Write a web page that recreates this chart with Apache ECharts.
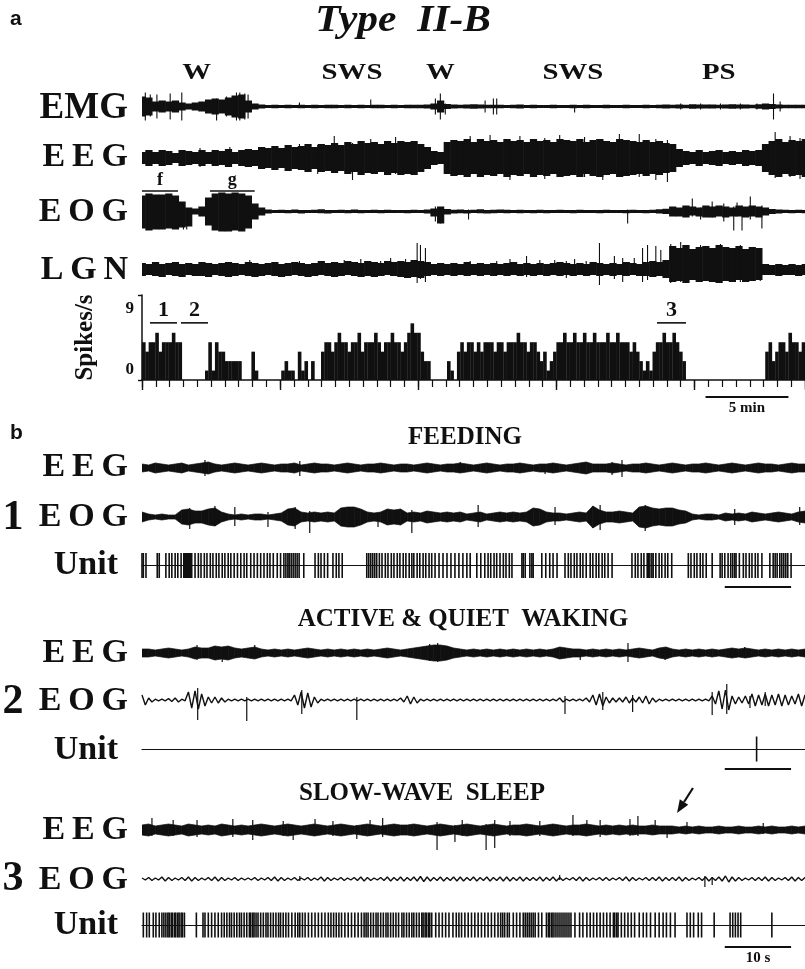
<!DOCTYPE html>
<html>
<head>
<meta charset="utf-8">
<script src="https://cdn.jsdelivr.net/npm/echarts@6/dist/echarts.min.js"></script>
<style>
  html, body { margin: 0; padding: 0; background: #fff; }
  #fig { width: 805px; height: 969px; }
</style>
</head>
<body>
<div id="fig"></div>
<script>
// ---------------- Panel a: long recording (time in minutes) ----------------
// Envelope samples every 0.4 min: half-amplitude above / below the baseline.
const emgAmp = [10,9,5,6,5,6,4,3,4,5, 7,8,7,9,11,12,6,3,2,1.5,
  1.7,1.6,1.7,1.6,1.8,1.6,1.7,1.6,1.7,1.8, 1.6,1.7,1.6,1.7,1.6,1.8,1.7,1.6,1.7,1.6, 1.7,1.8,1.7,1.9,
  3,6,2.5,
  1.9,1.8,2,2.3,1.9,1.7,1.8,1.7,1.6,1.7, 1.9,1.6,1.7,1.6,1.6,1.7,1.6,1.6,1.7,1.6, 1.7,1.6,1.6,1.7,1.6,1.6,1.7,1.6,1.6,1.7, 1.6,1.7,1.9,
  1.8,2,1.8,2.2,1.9,2,2.1,1.8,2,2.2,1.9,2,1.8,2.2,3,
  2.6,2,1.8,1.7,1.8,1.7];
// [time (min), up, down]
const emgSpikes = [[0.2,14,14],[0.5,12,10],[0.9,12,12],[1.7,13,13],[2.4,14,14],[4.5,8,14],[5.1,10,10],
  [5.7,14,14],[5.9,14,14],[6.2,13,13],[6.4,12,12],[9.5,4,1],[13.8,7,1],[17.7,8,8],[18.0,13,13],[18.3,3,8],
  [20.7,6,6],[21.2,8,8],[21.4,8,8],[26.1,1,6],[32.5,3,3],[33.7,3,3],[34.9,3,3],[36.1,3,3],[37.1,3,3],
  [38.1,13,13],[38.5,5,5]];

const eegAAmp = [6,8,6,8,7,5,8,7,6,8,6,8,7,9,6,8,9,
  8,11,10,12,10,13,11,12,14,11,14,13,
  15,13,16,14,17,15,16,14,17,15,17,
  16,17,14,11,7,6,
  16,18,17,19,16,19,17,18,16,19, 17,18,16,19,17,18,16,19,18,17, 19,16,18,19,17,16,19,18,17,16, 18,16,17,15,14,
  9,7,6,8,6,7,8,6,7,6,8,7,8,
  14,17,19,16,18,17,19];
const eegASpikes = [[3.5,10,9],[5.3,11,8],[9.5,14,12],[10.6,13,16],[11.6,22,14],[12.7,15,22],[13.8,19,15],
  [15.3,21,16],[19.8,22,17],[21.0,23,16],[22.2,18,22],[22.8,22,18],[24.3,20,21],[25.2,23,18],[26.7,21,19],
  [27.8,18,22],[28.8,24,18],[30.0,24,19],[31.0,19,22],[31.7,18,24],[38.2,26,20],[39.1,22,19],[39.7,20,21]];

const eogAUp = [16,18,17,17,18,16,10,4,3,5, 14,18,19,18,19,18,16,8,4,2,
  1.5,1.8,1.5,2,1.6,1.5,1.8,2.2,1.5,1.6, 1.8,1.5,2,1.6,1.5,1.7,1.5,1.8,1.5,1.6,
  1.5,1.8,1.6,2,3,5,2.5,1.8,2,1.6, 1.8,2.2,1.6,1.8,2,1.7,1.6,1.8,1.6,1.5,
  1.7,1.6,1.5,1.7,1.5,1.6,1.7,1.5,1.6,1.5, 1.7,1.5,1.6,1.5,1.7,1.6,1.5,1.8,2.2,2.8,
  5,4,6,5,4,6,5,6,5,4, 6,5,6,5,4,2.5,2,1.8,1.6,1.8, 1.6];
const eogADn = [17,19,18,18,17,18,16,15,3,5, 14,19,20,20,19,20,17,8,4,2,
  1.6,1.5,1.8,1.5,2,1.6,1.5,1.8,2,1.5, 1.6,1.8,1.5,1.7,1.6,1.5,1.8,1.5,1.6,1.5,
  1.8,1.6,1.5,2,5,12,3,2,1.8,2, 1.6,1.8,2,1.7,1.6,1.8,1.5,1.7,1.6,1.8,
  1.5,1.7,1.6,1.5,1.6,1.7,1.5,1.6,1.5,1.7, 1.5,1.6,1.5,1.7,1.5,1.6,1.7,1.5,2,2.5,
  5,5,6,4,5,6,6,5,6,5, 5,6,5,6,4,2.5,2,1.6,1.8,1.6, 1.8];
const eogASpikes = [[2.5,2,18],[2.7,2,18],[17.7,5,10],[18.0,4,12],[19.7,2,8],[29.3,2,12],[33.2,13,5],
  [33.7,4,8],[34.4,10,6],[35.1,8,10],[35.7,5,19],[35.9,9,5],[36.2,6,19],[36.7,15,8],[37.4,6,17]];

const lgnUp = [7,6,8,6,7,8,6,7,6,8, 7,6,7,8,7,6,8,7,6,7, 8,6,7,8,7,6,7,9,7,8, 7,9,8,7,9,8,7,9,8,
  9,8,10,9,8,
  6,7,6,7,6,8,6,7,6,7, 6,7,8,6,7,6,7,6,7,8, 7,6,7,6,8,7,6,7,6,8, 7,6,
  8,9,8,10,
  24,22,25,21,23,24,22,25,23,22,24,21,23,22,
  6,5,6,5,6,5,6];
const lgnDn = [6,5,6,7,5,6,7,5,6,6, 7,5,6,7,6,5,6,7,6,5, 6,7,6,5,6,7,6,5,6,7, 6,5,6,7,6,7,6,5,6,
  7,8,7,8,6,
  5,6,5,6,5,6,5,6,5,6, 5,6,5,6,5,6,5,6,5,6, 5,6,5,6,5,6,5,6,5,6, 5,6,
  6,7,6,8,
  12,11,13,10,12,11,12,13,11,12,10,12,11,10,
  5,5,6,5,5,6,5];
const lgnSpikes = [[6.5,10,5],[9.5,9,5],[12.2,10,6],[13.2,11,5],[14.4,9,5],[15.0,12,6],[15.9,11,7],
  [16.6,27,13],[16.8,25,9],[17.1,22,12],[19.8,9,5],[21.4,9,5],[22.2,11,5],[23.2,14,7],[24.0,10,5],
  [24.9,10,5],[25.6,9,8],[26.1,11,5],[26.8,9,5],[27.6,27,15],[28.5,14,9],[29.0,12,12],[29.7,12,5],
  [30.2,22,12],[30.5,25,10],[31.0,24,6],[31.3,20,6],[31.9,26,13],[32.5,28,12],[33.7,25,12],
  [34.9,26,12],[36.1,25,12],[37.3,22,11]];

// Unit firing rate, spikes/s, one bin every 0.2 min
const rateBins = [4,3,4,4,5,3,4,4,4,5,4,4, 0,0,0,0,0,0,0, 1, 4,1,4,3,3,2,2,2,2,2, 0,0,0, 3,1,
  0,0,0,0,0,0,0, 1,2,1,1, 0, 3,1,2, 0, 2, 0,0,
  3,4,4,3,4,5,4,4,3,4,4,5,3,4,4,4,5,4,3,4,4,5,4,4,
  3,4,5,6,5,5,3,2,2, 0,0,0,0,0, 2,1, 0, 3,
  4,3,4,4,3,4,3,4,4,4,3,4,4,3,4,4,4,5,4,4,3,4,4,3,2,3,
  1,2,
  3,4,4,5,4,4,5,4,4,5,4,4,5,4,4,4,5,4,4,5,4,4,4,3,4,3,2,
  1,2,1,
  3,4,4,5,4,4,5,4,3,2,
  0,0,0,0,0,0,0,0,0,0,0,0,0,0,0,0,0,0,0,0,0,0,0,0,
  3,4,2,3,4,4,3,5,4,4,3,4];
const rateTicks = [0, 9];
// epochs marked above the traces: [label, start, end] in minutes
const eogEpochs = [['f', 0, 2.17], ['g', 4.1, 6.8]];
const rateEpochs = [['1', 0.48, 2.11], ['2', 2.35, 3.98], ['3', 31.07, 32.82]];
const stateLabels = [['W', 3.3], ['SWS', 12.67], ['W', 18.0], ['SWS', 26.0], ['PS', 34.8]];

// ---------------- Panel b: expanded epochs (time in seconds) ----------------
const eegB1Amp = [4,3,5,4,3,4,5,3,4,5, 6,4,3,4,5,4,3,4,5,4, 3,4,4,5,3,4,5,4,4,3, 4,5,4,3,4,4,5,4,3,4,
  4,3,4,5,4,3,4,4,5,4, 3,4,5,4,3,4,4,5,4,3, 4,4,5,4,3,4,5,6,4,4, 4,5,4,3,4,4,5,4,3,4,
  5,4,3,4,4,5,4,3,4,5, 4,3,4,5,4,4,3,4,5,4, 4];
const eegB1Spikes = [[9.5,8,8],[23.8,7,8],[48.0,6,4],[60.8,4,6],[70.9,6,7],[72.4,8,9]];
const eogB1Amp = [5,3,2,3,2,2,7,8,6,6, 8,9,5,3,2,3,2,3,3,2, 3,4,8,9,5,4,5,4,5,4, 9,10,10,8,5,4,5,8,7,8,
  4,5,4,6,5,4,5,4,5,3, 4,5,3,4,5,4,5,4,5,9, 8,5,4,4,3,4,5,4,11,7, 5,5,6,5,4,10,11,9,8,9,
  9,7,6,3,2,3,3,2,4,3, 4,3,5,4,3,4,5,4,3,5, 6];
const eogB1Spikes = [[7.2,9,12],[11.0,11,9],[14.0,10,9],[19.0,5,10],[23.1,10,12],[25.3,6,16],[35.6,4,10],
  [40.7,7,16],[50.7,12,10],[62.3,10,8],[69.1,12,13],[75.9,12,14],[89.4,8,8],[99.2,10,8]];
const unit1Times = [0,0.2,0.6,2.3,2.6,3.6,4.1,4.5,5.0,5.4,5.9,6.3,6.4,6.6,6.7,6.9,7.0,7.2,7.3,7.5,
  8.0,8.5,8.9,9.4,9.8,10.3,10.7,11.2,11.6,12.1,12.5,13.0,13.4,13.9,14.4,14.9,15.4,15.8,16.4,16.9,
  17.4,17.9,18.4,18.9,19.3,19.8,20.4,20.9,21.4,21.7,22.0,22.2,22.5,22.8,23.1,23.4,23.7,24.4,
  26.1,26.6,27.0,27.5,28.0,28.8,29.3,29.7,30.2,
  33.9,34.2,34.5,34.8,35.1,35.4,35.8,36.2,36.7,37.1,37.6,38.0,38.5,38.9,39.4,39.8,40.3,40.7,41.0,
  41.5,41.9,42.4,42.8,43.3,43.7,44.2,44.8,45.4,46.0,46.6,47.2,47.8,48.4,49.0,49.5,
  50.5,51.1,51.7,52.2,52.6,53.1,53.5,54.0,54.5,54.9,55.4,55.8,57.3,57.5,57.8,58.5,58.8,59.0,
  60.3,60.9,61.5,62.0,62.6,63.8,64.3,64.7,65.2,65.6,66.1,66.5,67.0,67.6,68.0,68.5,68.9,69.4,69.8,
  70.3,70.9,73.9,74.4,74.8,75.3,75.7,76.2,76.4,76.6,76.9,77.1,77.5,78.0,78.4,78.9,79.3,79.9,
  82.4,82.8,83.3,83.7,84.2,84.6,85.1,86.0,87.2,87.5,87.9,88.4,88.8,89.1,89.4,89.6,90.1,90.7,
  91.1,91.6,92.0,92.5,92.9,93.5,94.7,95.2,95.5,95.8,96.2,96.5,96.8,97.1,97.4,97.9];

const eegB2Amp = [4,4,3,4,5,4,3,4,6,5, 5,7,6,7,5,4,5,6,4,3, 4,3,4,3,4,5,4,3,4,3, 4,3,4,3,4,3,4,5,4,3,
  4,5,6,7,8,8,7,5,4,3, 4,3,4,3,4,3,4,3,4,3, 4,3,4,6,5,4,4,3,4,3, 4,3,4,3,4,5,4,3,5,6,
  4,3,4,3,4,3,4,3,4,5, 4,5,4,3,4,3,4,3,4,3, 4];
const eegB2Spikes = [[8.3,8,7],[12.1,6,9],[17.0,8,4],[43.4,9,8],[44.6,10,9],[66.1,4,7],[73.3,10,9],
  [78.9,4,7],[90.9,6,5]];
const eogB2Amp = [5,2,0.8,0.8,1.5,2,0.8,8,9,6, 3,3,2,0.8,0.8,0.8,0.8,0.8,0.8,0.8,
  0.8,0.8,0.8,5,8,7,3,0.8,0.8,0.8, 0.8,0.8,0.8,0.8,0.8,0.8,0.8,0.8,0.8,2,
  4,3,0.8,0.8,0.8,0.8,0.8,0.8,0.8,0.8, 0.8,0.8,0.8,0.8,0.8,0.8,0.8,0.8,0.8,0.8,
  0.8,0.8,0.8,2,0.8,0.8,0.8,2,5,6, 3,2,2,3,2,3,4,2,0.8,0.8,
  0.8,0.8,0.8,0.8,0.8,0.8,4,9,10,4, 3,4,6,5,6,5,6,5,4,6, 5];
const eogB2Spikes = [[8.4,12,20],[15.8,3,21],[24.1,10,14],[32.4,3,20],[63.8,4,14],[69.5,8,10],
  [74.0,5,12],[86.0,8,15],[88.2,16,14],[91.7,4,8],[94.0,8,6]];
const unit2Times = [92.7];

const eegB3Amp = [5,6,4,5,6,5,4,6,5,4, 5,4,6,5,4,5,4,5,6,5, 4,5,6,5,4,5,6,5,4,5, 6,5,4,5,6,5,4,5,6,5,
  5,6,5,4,5,6,5,4,5,6, 5,4,5,6,5,4,5,5,6,5, 4,5,6,5,4,5,5,6,5,4, 5,4,5,4,5,4,4,5,4,4,
  4,3,4,3,4,3,3,4,3,3, 4,3,3,4,3,4,3,3,4,3, 4];
const eegB3Spikes = [[1.5,12,6],[4.7,10,6],[8.3,10,7],[13.7,11,7],[16.7,10,10],[21.3,9,6],[22.8,5,10],
  [26.1,11,6],[28.8,9,6],[32.4,5,9],[34.4,10,6],[36.3,12,7],[44.5,8,20],[47.2,5,12],[48.3,10,6],
  [51.9,6,20],[53.2,10,18],[55.5,9,6],[60.0,9,6],[65.0,15,6],[67.1,10,6],[69.1,10,7],[73.6,11,6],
  [74.8,14,6],[77.4,10,5],[79.2,4,8],[82.2,8,4],[93.7,7,4]];
const eogB3Amp = [1,1.5,1,2,1.5,1,1.5,2,1.5,1, 1.5,2,1.5,1,1.5,1,1,1.5,1,1.5, 2,1.5,1,1.5,1,1.5,1,2,1.5,1,
  1.5,1,1.5,2,1.5,1,1.5,2,1.5,2, 1.5,2,2.5,2,1.5,2,1.5,2,2,1.5, 2,1.5,2,1.5,2,2,1.5,2,1.5,1.5,
  2,1.5,2,1.5,1,1.5,2,1.5,1,1.5, 1.5,1,1.5,2,1.5,1,1.5,1.5,2,1.5, 1.5,2,1.5,1,1.5,2,1.5,2,3,2,
  1.5,1,1.5,1.5,2,1.5,1,1.5,2,1.5, 1.5];
const eogB3Spikes = [[23.8,3,2],[63.0,4,1],[84.9,3,8],[86.0,2,6]];
const unit3Times = [0.2,0.7,1.1,1.7,2.1,2.6,3.0,3.3,3.6,3.9,4.1,4.4,4.6,4.9,5.1,5.4,5.6,5.9,6.1,6.4,
  8.2,9.2,9.5,10.0,10.5,11.0,11.5,12.0,12.4,12.8,13.2,13.5,13.9,14.3,14.7,15.0,15.4,15.8,16.2,16.4,
  16.7,16.9,17.2,17.5,17.9,18.3,18.7,19.0,19.4,19.8,20.2,20.6,20.9,21.3,21.7,22.1,22.6,23.1,23.5,23.8,
  24.2,24.6,25.1,25.6,26.1,26.6,27.1,27.6,28.1,28.5,28.9,29.3,29.7,30.1,30.6,31.1,31.6,32.1,32.6,33.1,
  33.5,33.8,34.1,34.5,34.9,35.3,35.6,36.0,36.4,36.8,37.1,37.5,37.9,38.3,38.7,39.2,39.5,39.9,40.3,40.7,
  41.0,41.4,41.8,42.2,42.4,42.7,42.9,43.2,43.4,43.7,44.3,44.8,45.3,45.8,46.3,46.9,47.4,47.8,48.2,48.7,
  49.2,49.7,50.2,50.7,51.2,51.7,52.2,52.7,53.2,53.7,54.1,54.4,54.7,55.1,55.4,56.0,56.5,57.0,57.5,57.8,
  58.1,58.4,58.7,59.0,59.3,59.8,60.3,61.0,61.3,61.5,61.8,62.0,62.3,62.6,62.9,63.2,63.5,63.8,64.1,64.4,
  64.7,65.3,66.0,66.5,67.1,67.6,68.1,68.6,69.1,69.6,70.1,70.6,71.1,71.3,71.6,71.8,72.3,72.8,73.3,73.8,
  74.3,75.0,75.6,76.1,76.7,77.4,78.0,78.6,79.1,79.7,80.4,82.2,82.7,83.2,83.9,84.4,86.3,88.7,89.1,89.5,
  89.9,90.3,95.0];
// arrow pointing at the EEG change in the sleep epoch: [tipTime, tipValue, tailTime, tailValue]
const sleepArrow = [80.7, 17, 83.1, 42];

// ---------------- drawing ----------------
const INK = '#101010';
const SERIF = '"Liberation Serif", "Times New Roman", Times, serif';
const SANS = '"Liberation Sans", Arial, sans-serif';

const A_STEP = 0.4;          // min per envelope sample
const A_BIN = 0.2;           // min per rate bin
const A_MAX = 40;            // min shown
const B_STEP = 1;            // s per envelope sample
const B_MAX = 100;           // s shown
const LEFT = 142, WIDTH = 663;

const grids = [], xAxes = [], yAxes = [], series = [], elements = [];

// one grid per row, with its own x and y axis at the same index
function addGrid(top, height, xMax, yMin, yMax, xExtra, yExtra) {
  const i = grids.length;
  grids.push({ left: LEFT, top: top, width: WIDTH, height: height });
  xAxes.push(Object.assign({ type: 'value', gridIndex: i, min: 0, max: xMax, show: false,
    position: 'bottom', splitLine: { show: false } }, xExtra || {}));
  yAxes.push(Object.assign({ type: 'value', gridIndex: i, min: yMin, max: yMax, show: false,
    splitLine: { show: false } }, yExtra || {}));
  return i;
}

// solid noise band: one block per envelope sample
function blockEnvelope(g, up, dn, step) {
  series.push({
    type: 'custom', xAxisIndex: g, yAxisIndex: g, silent: true, clip: true,
    data: up.map(function (u, i) { return [i * step, u, dn[i]]; }),
    renderItem: function (p, api) {
      const t = api.value(0);
      const a = api.coord([t - step / 2, api.value(1)]);
      const b = api.coord([t + step / 2, -api.value(2)]);
      return { type: 'rect', shape: { x: a[0], y: a[1], width: b[0] - a[0] + 0.6, height: b[1] - a[1] },
        style: { fill: INK } };
    }
  });
}

// solid band joining consecutive envelope samples
function bandEnvelope(g, up, dn, step) {
  const data = [];
  for (let i = 0; i + 1 < up.length; i++) {
    data.push([i * step, up[i], dn[i], (i + 1) * step, up[i + 1], dn[i + 1]]);
  }
  series.push({
    type: 'custom', xAxisIndex: g, yAxisIndex: g, silent: true, clip: true, data: data,
    renderItem: function (p, api) {
      const a = api.coord([api.value(0), api.value(1)]);
      const b = api.coord([api.value(3), api.value(4)]);
      const c = api.coord([api.value(3), -api.value(5)]);
      const d = api.coord([api.value(0), -api.value(2)]);
      return { type: 'polygon', shape: { points: [a, b, c, d] },
        style: { fill: INK, stroke: INK, lineWidth: 0.7 } };
    }
  });
}

// oscillating trace: peaks at the samples, troughs half-way between them
function waveTrace(g, up, dn, step) {
  const pts = [];
  up.forEach(function (u, i) {
    pts.push([i * step, u]);
    pts.push([i * step + step / 2, -dn[i]]);
  });
  series.push({
    type: 'line', xAxisIndex: g, yAxisIndex: g, silent: true, clip: true, data: pts,
    showSymbol: false, symbol: 'none', smooth: false,
    lineStyle: { color: INK, width: 1.4 }
  });
}

function spikes(g, list, width) {
  series.push({
    type: 'custom', xAxisIndex: g, yAxisIndex: g, silent: true, clip: false, data: list,
    renderItem: function (p, api) {
      const a = api.coord([api.value(0), api.value(1)]);
      const b = api.coord([api.value(0), -api.value(2)]);
      return { type: 'line', shape: { x1: a[0], y1: a[1], x2: b[0], y2: b[1] },
        style: { stroke: INK, lineWidth: width } };
    }
  });
}

function rowA(centerY, up, dn, spk) {
  const g = addGrid(centerY - 40, 80, A_MAX, -40, 40);
  blockEnvelope(g, up, dn, A_STEP);
  spikes(g, spk, 1.1);
  return g;
}
function rowB(centerY, amp, spk, style) {
  const g = addGrid(centerY - 40, 80, B_MAX, -40, 40);
  if (style === 'band') bandEnvelope(g, amp, amp, B_STEP);
  else waveTrace(g, amp, amp, B_STEP);
  spikes(g, spk, 1.2);
  return g;
}

function unitRow(centerY, times) {
  const g = addGrid(centerY - 12.5, 25, B_MAX, -1, 1,
    { show: true, axisLine: { show: true, onZero: true, lineStyle: { color: INK, width: 1.2 } },
      axisTick: { show: false }, axisLabel: { show: false } });
  spikes(g, times.map(function (t) { return [t, 1, 1]; }), 1.6);
  return g;
}

function epochs(g, list, level, font) {
  series.push({
    type: 'custom', xAxisIndex: g, yAxisIndex: g, silent: true, clip: false,
    data: list.map(function (e) { return [e[1], e[2]]; }),
    renderItem: function (p, api) {
      const a = api.coord([api.value(0), level]);
      const b = api.coord([api.value(1), level]);
      return { type: 'group', children: [
        { type: 'line', shape: { x1: a[0], y1: a[1], x2: b[0], y2: b[1] },
          style: { stroke: INK, lineWidth: 1.6 } },
        { type: 'text', x: (a[0] + b[0]) / 2, y: a[1] - 2,
          style: { text: list[p.dataIndex][0], font: font, fill: INK,
            align: 'center', verticalAlign: 'bottom', textAlign: 'center', textVerticalAlign: 'bottom' } }
      ] };
    }
  });
}

function scaleBar(centerY, xMax, from, len, text) {
  const g = addGrid(centerY - 10, 20, xMax, -10, 10);
  series.push({
    type: 'custom', xAxisIndex: g, yAxisIndex: g, silent: true, clip: false,
    data: [[from, from + len]],
    renderItem: function (p, api) {
      const a = api.coord([api.value(0), 0]);
      const b = api.coord([api.value(1), 0]);
      const kids = [{ type: 'line', shape: { x1: a[0], y1: a[1], x2: b[0], y2: b[1] },
        style: { stroke: INK, lineWidth: 2.2 } }];
      if (text) kids.push({ type: 'text', x: (a[0] + b[0]) / 2, y: a[1] + 4,
        style: { text: text, font: 'bold 15px ' + SERIF, fill: INK,
          align: 'center', verticalAlign: 'top', textAlign: 'center', textVerticalAlign: 'top' } });
      return { type: 'group', children: kids };
    }
  });
}

// panel a traces
rowA(106.5, emgAmp, emgAmp, emgSpikes);
rowA(158, eegAAmp, eegAAmp, eegASpikes);
const gEogA = rowA(211.5, eogAUp, eogADn, eogASpikes);
epochs(gEogA, eogEpochs, 20.5, 'bold 18px ' + SERIF);
rowA(270, lgnUp, lgnDn, lgnSpikes);

// panel a state labels, placed on the shared time axis
const gState = addGrid(63, 20, A_MAX, -10, 10);
series.push({
  type: 'custom', xAxisIndex: gState, yAxisIndex: gState, silent: true, clip: false,
  data: stateLabels.map(function (s) { return [s[1], 0]; }),
  renderItem: function (p, api) {
    const c = api.coord([api.value(0), 0]);
    return { type: 'text', x: c[0], y: c[1], scaleX: 1.2,
      style: { text: stateLabels[p.dataIndex][0], font: 'bold 24px ' + SERIF, fill: INK,
        align: 'center', verticalAlign: 'middle', textAlign: 'center', textVerticalAlign: 'middle' } };
  }
});

// firing-rate histogram (short ticks every 5/6 min)
const gRate = addGrid(295, 85, A_MAX, 0, 9,
  { show: true, interval: 5 / 6,
    axisLine: { show: true, onZero: false, lineStyle: { color: INK, width: 1.5 } },
    axisTick: { show: true, length: 7, lineStyle: { color: INK, width: 1.2 } },
    axisLabel: { show: false } },
  { show: true, interval: 9,
    axisLine: { show: true, lineStyle: { color: INK, width: 1.5 } },
    axisTick: { show: true, length: 4, lineStyle: { color: INK, width: 1.4 } },
    axisLabel: { show: true, margin: 8, color: INK,
      formatter: function (v) { return v === rateTicks[1] ? '{hi|' + v + '}' : '{lo|' + v + '}'; },
      rich: {
        hi: { fontFamily: SERIF, fontWeight: 'bold', fontSize: 17, color: INK, padding: [28, 0, 0, 0] },
        lo: { fontFamily: SERIF, fontWeight: 'bold', fontSize: 17, color: INK, padding: [0, 0, 20, 0] }
      } },
    name: 'Spikes/s', nameLocation: 'middle', nameGap: 44,
    nameTextStyle: { fontFamily: SERIF, fontWeight: 'bold', fontSize: 25, color: INK } });
series.push({
  type: 'custom', xAxisIndex: gRate, yAxisIndex: gRate, silent: true, clip: false,
  data: rateBins.map(function (v, i) { return [i * A_BIN, (i + 1) * A_BIN, v]; }),
  renderItem: function (p, api) {
    if (!api.value(2)) return null;
    const a = api.coord([api.value(0), api.value(2)]);
    const b = api.coord([api.value(1), 0]);
    return { type: 'rect', shape: { x: a[0], y: a[1], width: b[0] - a[0] + 0.3, height: b[1] - a[1] },
      style: { fill: INK } };
  }
});
epochs(gRate, rateEpochs, 6.05, 'bold 22px ' + SERIF);
scaleBar(397, A_MAX, 34.0, 5, '5 min');

// panel b: feeding
rowB(468, eegB1Amp, eegB1Spikes, 'band');
rowB(517, eogB1Amp, eogB1Spikes, 'band');
unitRow(565.5, unit1Times);
scaleBar(587, B_MAX, 87.9, 10, null);

// panel b: active & quiet waking
rowB(653, eegB2Amp, eegB2Spikes, 'band');
rowB(700, eogB2Amp, eogB2Spikes, 'wave');
unitRow(749, unit2Times);
scaleBar(769, B_MAX, 87.9, 10, null);

// panel b: slow-wave sleep
const gEegB3 = rowB(830, eegB3Amp, eegB3Spikes, 'band');
rowB(879, eogB3Amp, eogB3Spikes, 'wave');
unitRow(925, unit3Times);
scaleBar(947, B_MAX, 87.9, 10, '10 s');

series.push({
  type: 'custom', xAxisIndex: gEegB3, yAxisIndex: gEegB3, silent: true, clip: false,
  data: [sleepArrow],
  renderItem: function (p, api) {
    const tip = api.coord([api.value(0), api.value(1)]);
    const tail = api.coord([api.value(2), api.value(3)]);
    const dx = tip[0] - tail[0], dy = tip[1] - tail[1];
    const L = Math.sqrt(dx * dx + dy * dy), ux = dx / L, uy = dy / L;
    const hl = 13, hw = 5;
    const base = [tip[0] - ux * hl, tip[1] - uy * hl];
    return { type: 'group', children: [
      { type: 'line', shape: { x1: tail[0], y1: tail[1], x2: base[0], y2: base[1] },
        style: { stroke: INK, lineWidth: 2.2 } },
      { type: 'polygon', shape: { points: [tip, [base[0] - uy * hw, base[1] + ux * hw], [base[0] + uy * hw, base[1] - ux * hw]] },
        style: { fill: INK } }
    ] };
  }
});

// long ticks every 25/3 min on the histogram time axis (extra axis, added after all rows)
xAxes.push({ type: 'value', gridIndex: gRate, min: 0, max: A_MAX, interval: 25 / 3, position: 'bottom',
  axisLine: { show: false }, axisTick: { show: true, length: 10, lineStyle: { color: INK, width: 1.4 } },
  axisLabel: { show: false }, splitLine: { show: false } });

// text
function label(str, x, y, font, align, extra) {
  elements.push(Object.assign({ type: 'text', x: x, y: y, silent: true,
    style: { text: str, x: 0, y: 0, font: font, fill: INK, align: align, verticalAlign: 'middle',
      textAlign: align, textVerticalAlign: 'middle' } }, extra || {}));
}
const T = '\u2009';
const ROW = 'bold 34px ' + SERIF;
label('a', 10, 19, 'bold 21px ' + SANS, 'left');
label('Type  II-B', 403, 21, 'italic bold 37px ' + SERIF, 'center', { scaleX: 1.12 });
label('EMG', 128, 108, 'bold 37px ' + SERIF, 'right');
label('E' + T + 'E' + T + 'G', 128, 157, ROW, 'right');
label('E' + T + 'O' + T + 'G', 128, 212, ROW, 'right');
label('L' + T + 'G' + T + 'N', 128, 270, ROW, 'right');

label('b', 10, 433, 'bold 21px ' + SANS, 'left');
label('FEEDING', 465, 438, 'bold 25px ' + SERIF, 'center');
label('E' + T + 'E' + T + 'G', 128, 467, ROW, 'right');
label('1', 13, 518, 'bold 42px ' + SERIF, 'center');
label('E' + T + 'O' + T + 'G', 128, 517, ROW, 'right');
label('Unit', 118, 565, ROW, 'right');

label('ACTIVE & QUIET  WAKING', 463, 620, 'bold 25px ' + SERIF, 'center');
label('E' + T + 'E' + T + 'G', 128, 653, ROW, 'right');
label('2', 13, 702, 'bold 42px ' + SERIF, 'center');
label('E' + T + 'O' + T + 'G', 128, 701, ROW, 'right');
label('Unit', 118, 750, ROW, 'right');

label('SLOW-WAVE  SLEEP', 422, 794, 'bold 25px ' + SERIF, 'center');
label('E' + T + 'E' + T + 'G', 128, 830, ROW, 'right');
label('3', 13, 879, 'bold 42px ' + SERIF, 'center');
label('E' + T + 'O' + T + 'G', 128, 880, ROW, 'right');
label('Unit', 118, 925, ROW, 'right');

const chart = echarts.init(document.getElementById('fig'), null, { renderer: 'canvas' });
chart.setOption({
  animation: false,
  backgroundColor: '#ffffff',
  grid: grids,
  xAxis: xAxes,
  yAxis: yAxes,
  series: series,
  graphic: { elements: elements }
});
</script>
</body>
</html>
